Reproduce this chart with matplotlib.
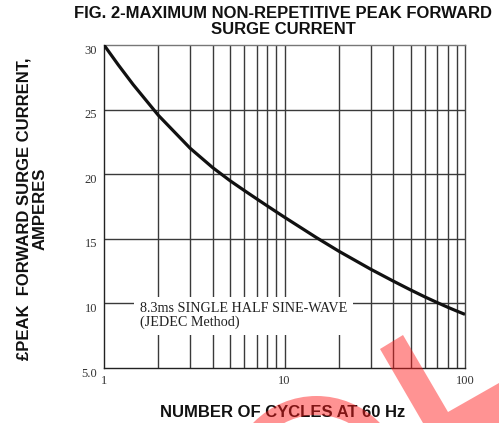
import matplotlib
matplotlib.use("Agg")
import matplotlib.pyplot as plt
import matplotlib.patches as mpatches
import matplotlib.transforms as mtrans

# Data
cycles = [1, 1.2, 1.45, 2, 3, 4, 5, 6, 7, 8, 9, 10, 15, 20, 30, 40, 50, 60, 70, 80, 90, 100]
current = [30, 28.46, 26.94, 24.56, 22.01, 20.51, 19.49, 18.73, 18.10, 17.56, 17.09, 16.67,
           15.10, 14.04, 12.65, 11.73, 11.04, 10.50, 10.07, 9.71, 9.41, 9.15]
ytick_vals = [5, 10, 15, 20, 25, 30]
ytick_labels = ["5.0", "10", "15", "20", "25", "30"]
xtick_vals = [1, 10, 100]
xtick_labels = ["1", "10", "100"]
vgrid = [2, 3, 4, 5, 6, 7, 8, 9, 10, 20, 30, 40, 50, 60, 70, 80, 90]
hgrid = [10, 15, 20, 25]

title = "FIG. 2-MAXIMUM NON-REPETITIVE PEAK FORWARD\nSURGE CURRENT"
xlabel = "NUMBER OF CYCLES AT 60 Hz"
ylabel = "\u00a3PEAK  FORWARD SURGE CURRENT,\nAMPERES"
note = "8.3ms SINGLE HALF SINE-WAVE\n(JEDEC Method)"

W, H = 499, 423
fig = plt.figure(figsize=(W / 100, H / 100), dpi=100)
ax = fig.add_axes([104 / W, 1 - 368 / H, (465 - 104) / W, (368 - 45) / H])

ax.set_xscale("log")
ax.set_xlim(1, 100)
ax.set_ylim(5, 30)

gridc = "#3a3a3a"
for x in vgrid:
    ax.axvline(x, color=gridc, lw=1.0, zorder=1)
for y in hgrid:
    ax.axhline(y, color=gridc, lw=1.0, zorder=1)

ax.plot(cycles, current, color="#111111", lw=2.3, zorder=3, solid_capstyle="butt",
        solid_joinstyle="round")

ax.set_yticks(ytick_vals)
ax.set_yticklabels(ytick_labels)
ax.set_xticks(xtick_vals)
ax.set_xticklabels(xtick_labels)
ax.xaxis.set_minor_locator(matplotlib.ticker.NullLocator())
ax.tick_params(axis="both", length=0, labelsize=9, labelcolor="#333333")
ax.tick_params(axis="y", pad=5)
ax.tick_params(axis="x", pad=5)
shift = mtrans.ScaledTranslation(0, -4 / 100, fig.dpi_scale_trans)
for lab in ax.get_yticklabels():
    lab.set_family("Liberation Serif")
    lab.set_transform(lab.get_transform() + shift)
for lab in ax.get_xticklabels():
    lab.set_family("Liberation Serif")
for s in ax.spines.values():
    s.set_color("#222222")
    s.set_linewidth(1.0)
ax.spines["top"].set_color("#777777")
ax.spines["right"].set_color("#444444")

ax.text(1.58, 9.05, note, family="Liberation Serif", fontsize=10.2, color="#222222",
        ha="left", va="center", linespacing=1.05, zorder=4,
        bbox=dict(facecolor="white", edgecolor="none", pad=4.0))

fig.text(283.5 / W, 1 - 6 / H, title, ha="center", va="top", fontsize=12, weight="bold",
         family="Liberation Sans", color="#111111", linespacing=1.05)
fig.text(283 / W, 1 - 412 / H, xlabel, ha="center", va="center", fontsize=12,
         weight="bold", family="Liberation Sans", color="#111111")
fig.text(32 / W, 1 - 209 / H, ylabel, ha="center", va="center", rotation=90,
         fontsize=12, weight="bold", family="Liberation Sans", color="#111111",
         linespacing=1.05, multialignment="center")

# red watermark overlay (pixel-based, via inch transform at 100 dpi)
wm_color = (1.0, 0.1, 0.1)
tr = fig.dpi_scale_trans
poly = [(380, 349), (403, 335), (448, 412), (499, 383), (499, 423), (423, 423)]
fig.patches.append(mpatches.Polygon([(px / 100, (H - py) / 100) for px, py in poly],
                                    closed=True, transform=tr,
                                    facecolor=wm_color, edgecolor="none", alpha=0.47, zorder=10))
ring = mpatches.Wedge((316.5 / 100, (H - 484) / 100), 0.88, 0, 180, width=0.19,
                      transform=tr, facecolor=wm_color, edgecolor="none",
                      alpha=0.47, zorder=10)
fig.patches.append(ring)

fig.savefig("out.png", dpi=100, facecolor="white")
